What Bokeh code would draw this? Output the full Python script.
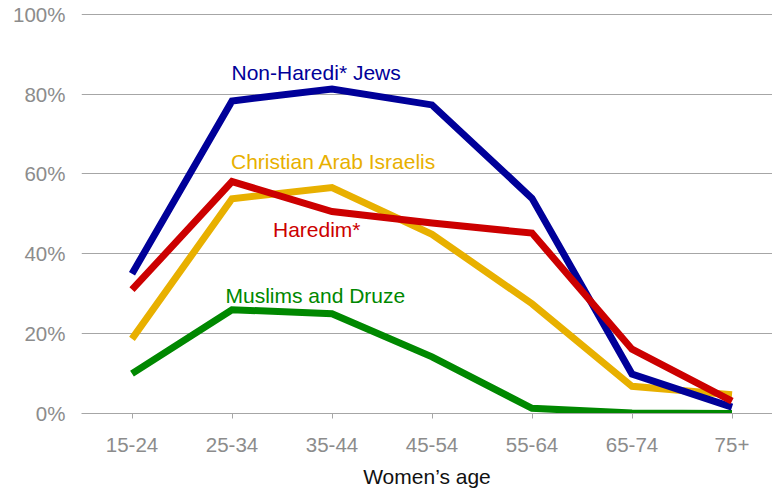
from bokeh.plotting import figure
from bokeh.models import FixedTicker, Range1d, Label
from bokeh.embed import file_html
from bokeh.resources import INLINE

# ---- data ----
age_groups = ["15-24", "25-34", "35-44", "45-54", "55-64", "65-74", "75+"]
non_haredi_jews = [35.0, 78.3, 81.3, 77.3, 53.9, 9.9, 1.6]
haredim = [31.0, 58.1, 50.6, 47.7, 45.2, 16.1, 3.1]
christian_arab = [18.7, 53.8, 56.6, 44.9, 27.5, 6.8, 4.7]
muslims_druze = [10.0, 26.0, 25.0, 14.2, 1.3, 0.1, 0.0]
y_ticks = [0, 20, 40, 60, 80, 100]
y_tick_labels = ["0%", "20%", "40%", "60%", "80%", "100%"]

FONT = "Liberation Sans"
xs = list(range(len(age_groups)))

p = figure(width=772, height=492, output_backend="svg", toolbar_location=None,
           x_range=Range1d(-0.505, 6.405), y_range=Range1d(0, 100.2),
           min_border_left=81, min_border_right=0, min_border_top=13, min_border_bottom=79)
p.outline_line_color = None
p.background_fill_color = "white"
p.border_fill_color = "white"

# grid
p.xgrid.grid_line_color = None
p.ygrid.grid_line_color = "#a6a6a6"
p.ygrid.grid_line_width = 1

# y axis
p.yaxis.ticker = FixedTicker(ticks=y_ticks)
p.yaxis.major_label_overrides = {t: l for t, l in zip(y_ticks, y_tick_labels)}
p.yaxis.axis_line_color = None
p.yaxis.major_tick_line_color = None
p.yaxis.minor_tick_line_color = None
p.yaxis.major_tick_out = 0
p.yaxis.major_tick_in = 0
p.yaxis.major_label_standoff = 16
p.yaxis.major_label_text_font = FONT
p.yaxis.major_label_text_font_size = "20.5px"
p.yaxis.major_label_text_color = "#8c8c8c"

# x axis
p.xaxis.ticker = FixedTicker(ticks=xs)
p.xaxis.major_label_overrides = {i: g for i, g in zip(xs, age_groups)}
p.xaxis.axis_line_color = "#a6a6a6"
p.xaxis.axis_line_width = 1
p.xaxis.major_tick_line_color = "#a6a6a6"
p.xaxis.major_tick_out = 5
p.xaxis.major_tick_in = 0
p.xaxis.minor_tick_line_color = None
p.xaxis.major_label_standoff = 19
p.xaxis.major_label_text_font = FONT
p.xaxis.major_label_text_font_size = "20.5px"
p.xaxis.major_label_text_color = "#8c8c8c"
p.xaxis.axis_label = "Women’s age"
p.xaxis.axis_label_text_font = FONT
p.xaxis.axis_label_text_font_size = "21px"
p.xaxis.axis_label_text_font_style = "normal"
p.xaxis.axis_label_text_color = "#111111"
p.xaxis.axis_label_standoff = 10

series = [
    (muslims_druze, "#008800"),
    (christian_arab, "#e8b000"),
    (non_haredi_jews, "#000099"),
    (haredim, "#cc0000"),
]
for ys, c in series:
    p.line(xs, ys, line_color=c, line_width=7, line_join="miter", line_cap="butt")

labels = [
    ("Non-Haredi* Jews", 0.995, 85.5, "#000099"),
    ("Christian Arab Israelis", 0.99, 63.1, "#e8b000"),
    ("Haredim*", 1.41, 46.0, "#cc0000"),
    ("Muslims and Druze", 0.935, 29.6, "#008800"),
]
for t, x, y, c in labels:
    p.add_layout(Label(x=x, y=y, text=t, text_color=c, text_font=FONT,
                       text_font_size="21px", text_baseline="alphabetic", text_align="left"))

open("out.html", "w").write(file_html(p, INLINE))
